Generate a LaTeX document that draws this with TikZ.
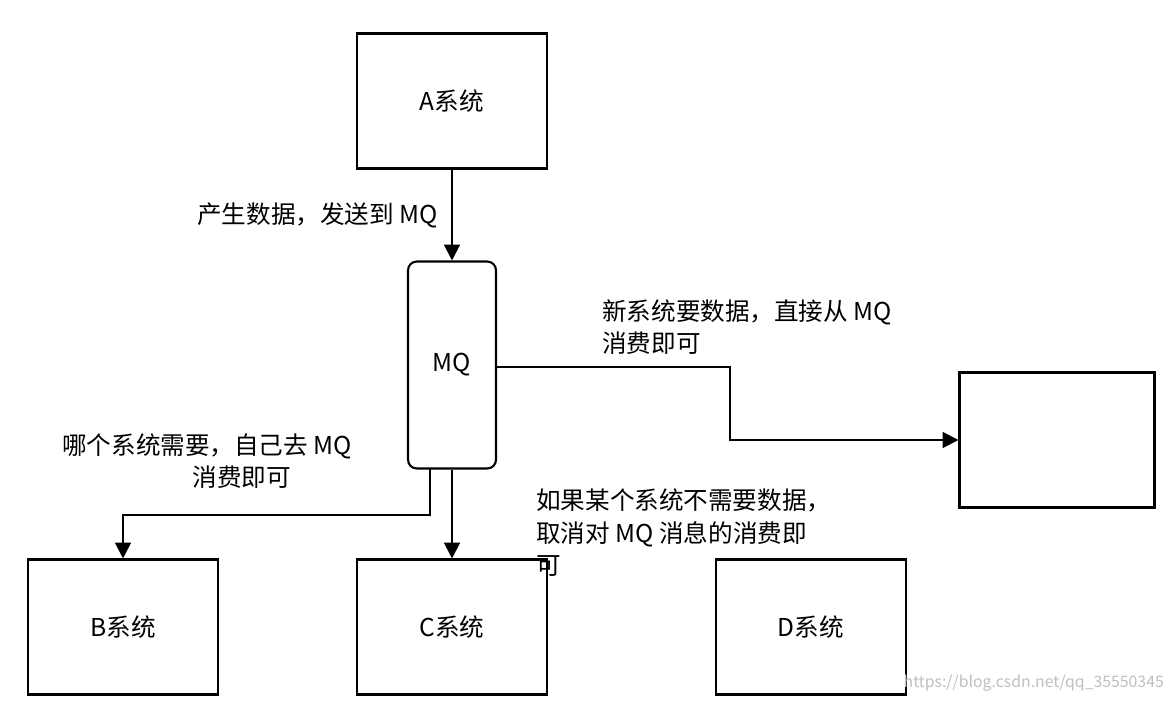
\documentclass[tikz,border=0pt]{standalone}
\usepackage{fontspec}
\setmainfont{Noto Sans CJK SC}
\usetikzlibrary{arrows.meta, positioning}

\begin{document}
\begin{tikzpicture}[x=0.02cm, y=-0.02cm,
    sys/.style={draw, line width=1.2pt, minimum width=3.8cm, minimum height=2.7cm, font=\fontsize{14}{16}\selectfont},
    lbl/.style={font=\fontsize{14}{18.5}\selectfont, align=left},
    flow/.style={-{Triangle[length=9pt,width=9pt]}, line width=1.2pt}]

            \useasboundingbox (0,0) rectangle (1176,702);

            \node[sys] (A) at (452,101) {A系统};
            \node[sys, rounded corners=5, minimum width=1.76cm, minimum height=4.14cm] (MQ) at (452,365) {MQ};
            \node[sys, minimum width=3.9cm] (N) at (1057,440) {};
            \node[sys] (B) at (123,627) {B系统};
            \node[sys] (C) at (452,627) {C系统};
            \node[sys] (D) at (811,627) {D系统};

            \coordinate (m1) at (730,367);
            \coordinate (m2) at (730,440);
            \coordinate (b0) at (430,469);
            \coordinate (b1) at (430,515);
            \coordinate (b2) at (123,515);

            \draw[flow] (A) -- (MQ);
            \draw[flow] (MQ.east |- m1) -- (m1) -- (m2) -- (N.west |- m2);
            \draw[flow] (b0) -- (b1) -- (b2) -- (B.north);
            \draw[flow] (MQ.south) -- (C.north);

            \node[lbl, anchor=east] (t1) at (444,215) {产生数据，发送到 MQ};
            \node[lbl, anchor=west] (t2) at (596,327) {新系统要数据，直接从 MQ\\消费即可};
            \node[lbl, anchor=west] (t3) at (56,461) {哪个系统需要，自己去 MQ\\\hspace*{5.3em}消费即可};
            \node[lbl, anchor=west] (t4) at (530,533) {如果某个系统不需要数据，\\取消对 MQ 消息的消费即\\可};
            \node[anchor=east, text=black!25, font=\fontsize{9}{10}\selectfont] (wm) at (1170,683) {https://blog.csdn.net/qq\_35550345};
\end{tikzpicture}
\end{document}
